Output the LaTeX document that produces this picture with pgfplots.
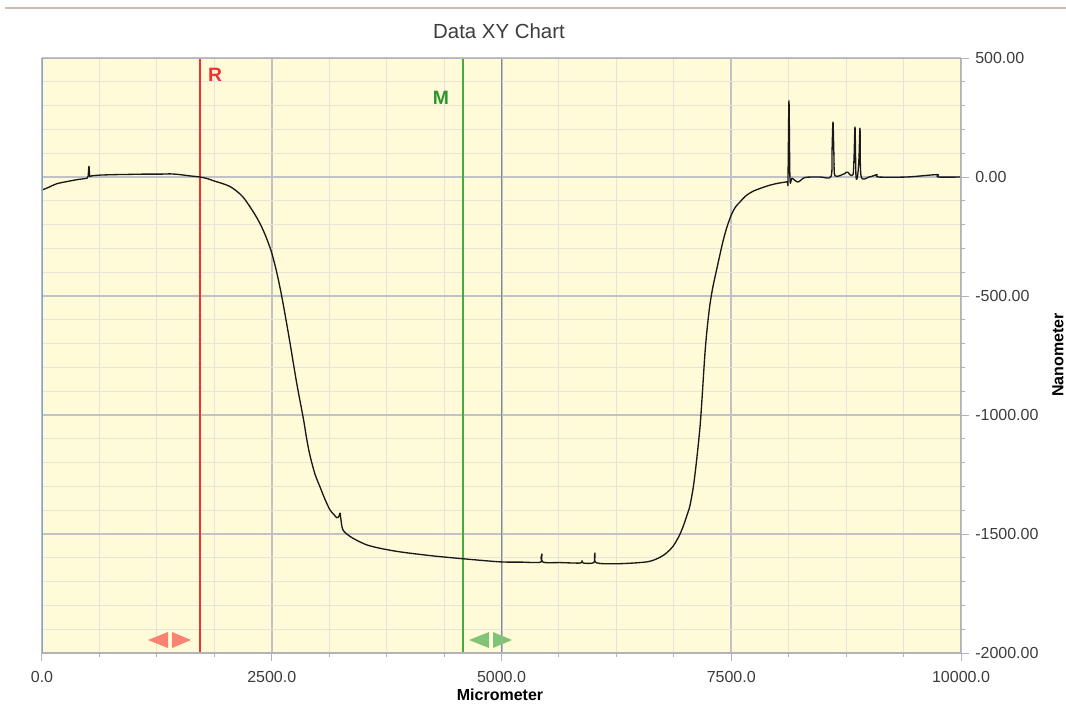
\documentclass[border=0pt]{standalone}
\usepackage{pgfplots}
\pgfplotsset{compat=1.18}
\usepackage{fontspec}
\setmainfont{Liberation Sans}
\definecolor{bgy}{RGB}{255,251,217}
\definecolor{mingrid}{RGB}{230,228,214}
\definecolor{majgrid}{RGB}{192,194,198}
\definecolor{slate}{RGB}{128,138,152}
\definecolor{lblue}{RGB}{125,162,226}
\definecolor{frameg}{RGB}{178,178,186}
\definecolor{txt}{RGB}{60,60,60}
\definecolor{rline}{RGB}{240,50,50}
\definecolor{gline}{RGB}{70,170,60}
\definecolor{mgreen}{RGB}{45,150,45}
\definecolor{rarrow}{RGB}{250,130,115}
\definecolor{garrow}{RGB}{130,195,120}
\definecolor{topline}{RGB}{200,190,178}
\begin{document}
\begin{tikzpicture}
\path[use as bounding box] (-31.5pt,-38.25pt) rectangle (768pt,489.75pt);
\begin{axis}[
  scale only axis,
  width=689.25pt, height=446.25pt,
  xmin=0, xmax=10000, ymin=-2000, ymax=500,
  scaled x ticks=false, scaled y ticks=false,
  axis background/.style={fill=bgy},
  axis line style={draw=none},
  xtick={0,2500,5000,7500,10000},
  xticklabels={0.0,2500.0,5000.0,7500.0,10000.0},
  ytick={-2000,-1500,-1000,-500,0,500},
  yticklabels={-2000.00,-1500.00,-1000.00,-500.00,0.00,500.00},
  minor x tick num=3,
  minor y tick num=4,
  grid=both,
  major grid style={draw=majgrid, line width=1.5pt},
  minor grid style={draw=mingrid, line width=0.75pt},
  xtick pos=left,
  ytick pos=right,
  yticklabel pos=right,
  tick align=outside,
  major tick length=6pt,
  minor tick length=3pt,
  tick style={draw=frameg, line width=0.75pt},
  xticklabel style={anchor=center, inner sep=0pt, yshift=-12pt, font=\fontsize{12}{14}\selectfont, text=txt},
  yticklabel style={anchor=west, inner sep=0pt, xshift=4.5pt, font=\fontsize{12}{14}\selectfont, text=txt},
  clip=true,
]
\addplot[slate, line width=1.1pt] coordinates {(5000,-2000) (5000,500)};
\addplot[rline, line width=0.8pt] coordinates {(1719,-2000) (1719,500)};
\addplot[gline, line width=0.9pt] coordinates {(4581,-2000) (4581,500)};
\addplot[black!90, line width=1.0pt, line join=round, smooth, tension=0.5] coordinates {
(0,-55) (80,-42) (163,-28) (300,-17) (400,-10) (490,-5) (502,3) (511,45) (520,3) (540,5)
(631,8) (800,10) (958,11) (1100,12) (1284,12) (1400,13) (1502,10) (1600,5) (1719,0)
(1800,-7) (1876,-17) (1960,-27) (2046,-40) (2120,-60) (2187,-84) (2263,-125) (2339,-172)
(2400,-218) (2448,-262) (2499,-318) (2554,-400) (2608,-500) (2655,-600)
(2699,-698) (2771,-865) (2844,-1015) (2880,-1100) (2916,-1170) (2970,-1248) (3025,-1302) (3080,-1355)
(3134,-1399) (3180,-1420) (3210,-1432)
(3232,-1425) (3243,-1412) (3253,-1440) (3275,-1483) (3351,-1510) (3428,-1527) (3536,-1546)
(3678,-1560) (3895,-1575) (4254,-1592) (4581,-1604) (4983,-1617) (5200,-1618) (5419,-1619)
(5430,-1600) (5441,-1584) (5451,-1618) (5636,-1620) (5860,-1622) (5876,-1612) (5890,-1622)
(6005,-1620) (6017,-1580) (6028,-1620) (6257,-1625) (6583,-1617) (6724,-1598) (6800,-1578)
(6866,-1552) (6930,-1510) (6975,-1470) (7015,-1425) (7051,-1380) (7090,-1295) (7127,-1176)
(7160,-1050) (7181,-937) (7214,-740) (7240,-628) (7268,-536) (7300,-462) (7345,-382)
(7410,-270) (7460,-202) (7508,-153) (7550,-124) (7595,-105) (7650,-82) (7736,-60) (7889,-38)
(8000,-27) (8106,-20) (8117,-16) (8128,320) (8139,-8) (8161,-5) (8226,-21) (8303,-2)
(8466,0) (8585,2) (8596,100) (8607,231) (8618,80) (8630,5) (8738,15) (8750,20) (8770,20)
(8790,10) (8825,10) (8836,80) (8847,210) (8857,5) (8875,5) (8890,80) (8901,205) (8912,5)
(9000,0) (9086,10) (9100,0) (9412,0) (9739,10) (9750,0) (10000,0)
};
% frame
\draw[frameg, line width=2pt] (rel axis cs:0,1) -- (rel axis cs:1,1);
\draw[frameg, line width=1.5pt] (rel axis cs:0,0) -- (rel axis cs:1,0);
\draw[frameg, line width=2.2pt] (rel axis cs:1,0) -- (rel axis cs:1,1);
\draw[lblue, line width=2pt] (rel axis cs:0,0) -- (rel axis cs:0,1);
\end{axis}
\begin{scope}[x=0.75pt,y=0.75pt]
\draw[topline, line width=1.5pt] (-37,645) -- (1030,645);
\node[font=\fontsize{15.3}{17}\selectfont, text=txt] at (457,622) {Data XY Chart};
\node[font=\fontsize{12}{14}\selectfont\bfseries] at (458,-42) {Micrometer};
\node[font=\fontsize{12}{14}\selectfont\bfseries, rotate=90, inner sep=0pt] at (1016,298) {Nanometer};
\node[font=\fontsize{14.5}{16}\selectfont\bfseries, text=rline] at (173,578) {R};
\node[font=\fontsize{14.5}{16}\selectfont\bfseries, text=mgreen] at (399,555) {M};
\fill[rarrow] (106,13) -- (126,21) -- (126,5) -- cycle;
\fill[rarrow] (149,13) -- (130,21) -- (130,5) -- cycle;
\fill[garrow] (427,13) -- (447,21) -- (447,5) -- cycle;
\fill[garrow] (470,13) -- (451,21) -- (451,5) -- cycle;
\end{scope}
\end{tikzpicture}
\end{document}
